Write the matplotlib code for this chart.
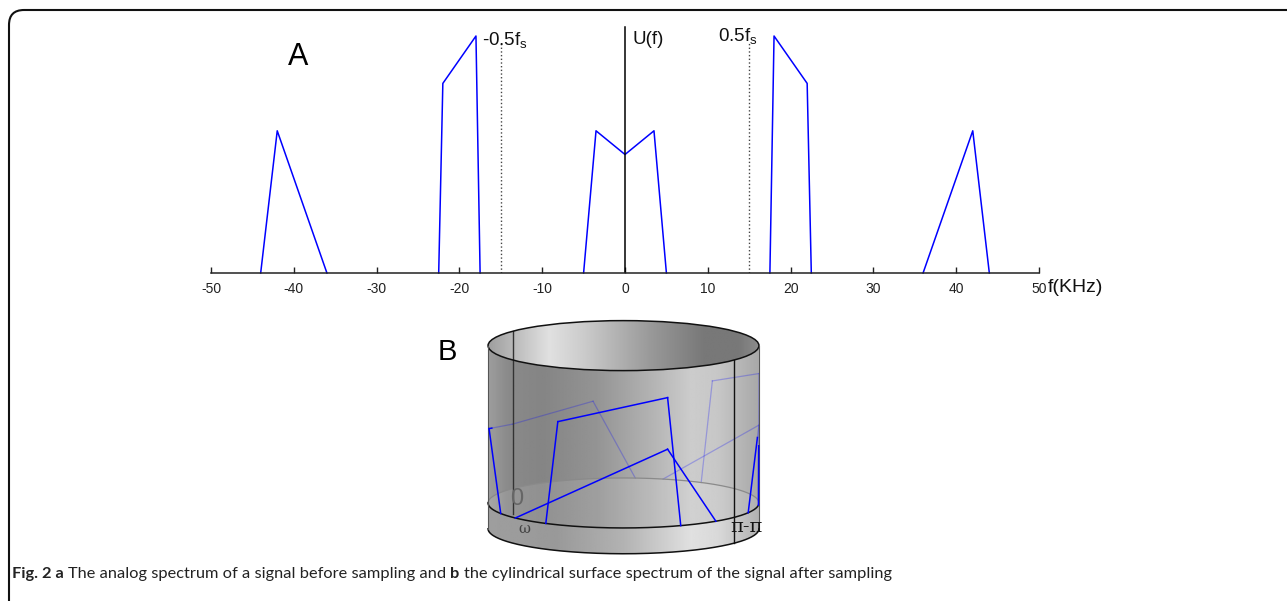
import numpy as np
import matplotlib.pyplot as plt
from matplotlib.patches import Polygon, Ellipse, FancyBboxPatch
from matplotlib.transforms import IdentityTransform

plt.rcParams['axes.unicode_minus'] = False

# sampling rate (kHz) and the spectrum pieces: baseband + images
fs = 30.0
base_f = [-5, -3.5, 0, 3.5, 5]
base_u = [0, 0.6, 0.5, 0.6, 0]
img20_f = [17.5, 18, 22, 22.5]
img20_u = [0, 1.0, 0.8, 0]
img20n_f = [-22.5, -22, -18, -17.5]
img20n_u = [0, 0.8, 1.0, 0]
img42_f = [36, 42, 44]
img42_u = [0, 0.6, 0]
img42n_f = [-44, -42, -36]
img42n_u = [0, 0.6, 0]
pieces = [(base_f, base_u), (img20_f, img20_u), (img20n_f, img20n_u),
          (img42_f, img42_u), (img42n_f, img42n_u)]
xticks = list(range(-50, 51, 10))

W, H = 1287, 601
fig = plt.figure(figsize=(W / 100, H / 100), dpi=100)


def px_box(x0, y0, x1, y1):
    return [x0 / W, 1 - y1 / H, (x1 - x0) / W, (y1 - y0) / H]


blue = '#0000ff'

# ---- A: analog spectrum ----
ax = fig.add_axes(px_box(211, 12.3, 1039, 273))
ax.patch.set_alpha(0)
ax.set_xlim(-50, 50)
ax.set_ylim(0, 1.1)
for s in ['top', 'left', 'right']:
    ax.spines[s].set_visible(False)
ax.spines['bottom'].set_color('#222222')
ax.spines['bottom'].set_linewidth(1.1)
ax.set_yticks([])
ax.set_xticks(xticks)
ax.tick_params(axis='x', direction='in', length=4.5, width=1, pad=6.5,
               labelsize=10, colors='#222222')
for lab in ax.get_xticklabels():
    lab.set_family('Liberation Sans')

for f, u in pieces:
    ax.plot(f, u, color=blue, lw=1.1, clip_on=False)

ax.axvline(0, 0, 1.04 / 1.1, color='black', lw=1.1)
ax.vlines([-fs / 2, fs / 2], 0, 0.97, colors='#444444', linestyles=':', lw=1)

tfont = dict(family='Liberation Sans', fontsize=13.5, color='#111111')
ax.text(-17.3, 0.958, r'-0.5f$_\mathregular{s}$', ha='left', va='baseline', **tfont)
ax.text(11.2, 0.975, r'0.5f$_\mathregular{s}$', ha='left', va='baseline', **tfont)
ax.text(0.85, 0.965, 'U(f)', ha='left', va='baseline', **tfont)
ax.text(51.1, -0.08, 'f(KHz)', ha='left', va='baseline', clip_on=False,
        family='Liberation Sans', fontsize=14, color='#111111')
ax.text(-39.5, 0.878, 'A', ha='center', va='baseline', family='Liberation Sans',
        fontsize=22)

# ---- B: spectrum wrapped on a cylinder ----
bx = fig.add_axes(px_box(474.5, 309.5, 772.5, 561))
bx.axis('off')
e = 25 / 129.0          # ellipse flattening in height units
Ht, Hb = 1.22, -0.2      # top and bottom of the drum
phi0 = np.deg2rad(215)   # screen angle of omega = 0


def ang(f):
    return phi0 + 2 * np.pi * np.asarray(f, float) / fs


def proj(phi, h):
    return np.cos(phi), h - e * np.sin(phi)


arc = np.linspace(np.pi, 0, 200)
bot_x, bot_y = proj(arc, Hb)
top_x, top_y = proj(arc[::-1], Ht)
body = Polygon(np.column_stack([np.r_[bot_x, top_x], np.r_[bot_y, top_y]]),
               closed=True, transform=bx.transData)
base_x, base_y = proj(arc, 0.0)
band = Polygon(np.column_stack([np.r_[base_x, bot_x[::-1]], np.r_[base_y, bot_y[::-1]]]),
               closed=True, transform=bx.transData)
mouth = Ellipse((0, Ht), 2, 2 * e, transform=bx.transData)

uu = np.linspace(-1, 1, 500)


def shade(stops_u, stops_v, clip, z):
    vals = np.interp(uu, stops_u, stops_v)
    im = bx.imshow(vals[None, :], cmap='gray', vmin=0, vmax=1,
                   extent=(-1, 1, -0.6, 1.6), aspect='auto',
                   interpolation='bilinear', zorder=z)
    im.set_clip_path(clip)


shade([-1, -0.85, -0.6, -0.2, 0.2, 0.5, 0.7, 0.9, 1],
      [0.62, 0.54, 0.52, 0.58, 0.7, 0.8, 0.78, 0.7, 0.66], body, 1)
shade([-1, -0.55, -0.3, 0.2, 0.6, 0.85, 1],
      [0.62, 0.88, 0.8, 0.6, 0.47, 0.47, 0.55], mouth, 2)
shade([-1, -0.5, 0, 0.5, 0.7, 1],
      [0.62, 0.6, 0.7, 0.88, 0.85, 0.7], band, 2)
bx.add_patch(Ellipse((0, 0), 2, 2 * e, facecolor='white', alpha=0.1,
                     edgecolor='none', zorder=2.5))

# spectrum on the drum: chords in front solid, behind faded
thr = 0.04
for f, u in pieces:
    ph = ang(f)
    u = np.asarray(u, float)
    for i in range(len(f) - 1):
        x1, y1 = proj(ph[i], u[i])
        x2, y2 = proj(ph[i + 1], u[i + 1])
        d1, d2 = np.sin(ph[i]), np.sin(ph[i + 1])
        if (d1 - thr) * (d2 - thr) < 0:
            t = (thr - d1) / (d2 - d1)
            xm, ym = x1 + t * (x2 - x1), y1 + t * (y2 - y1)
            segs = [((x1, xm), (y1, ym), d1 > thr), ((xm, x2), (ym, y2), d2 > thr)]
        else:
            segs = [((x1, x2), (y1, y2), d1 > thr)]
        for xs, ys, front in segs:
            if front:
                bx.plot(xs, ys, color=blue, lw=1.1, zorder=6)
            else:
                bx.plot(xs, ys, color=blue, lw=0.9, alpha=0.25, zorder=3)

back = np.linspace(0, -np.pi, 200)
bx.plot(*proj(back, 0.0), color='#8a8a8a', lw=0.9, zorder=3)
bx.plot(base_x, base_y, color='#111111', lw=1.1, zorder=5)
bx.plot(bot_x, bot_y, color='#111111', lw=1.1, zorder=5)
bx.add_patch(Ellipse((0, Ht), 2, 2 * e, facecolor='none', edgecolor='#111111',
                     lw=1.1, zorder=5))
for sx in (-1, 1):
    bx.plot([sx, sx], [Hb, Ht], color='#555555', lw=0.8, zorder=5)

# omega = 0 and omega = pi generators
for w, c, z in ((0.0, '#333333', 4), (fs / 2, '#111111', 7)):
    p = ang(w)
    gx, gy0 = proj(p, Hb)
    _, gy1 = proj(p, Ht)
    bx.plot([gx, gx], [gy0, gy1], color=c, lw=1.0, zorder=z)

bx.text(-0.786, 0.03, '0', fontsize=17, color='#666666', ha='center',
        va='center', family='Liberation Sans', zorder=8)
bx.text(-0.73, -0.2, 'ω', fontsize=10.5, color='#444444', ha='center',
        va='center', family='DejaVu Serif', zorder=8)
bx.text(0.786, -0.19, 'π-π', fontsize=14, color='#111111', ha='left',
        va='center', family='DejaVu Serif', zorder=8)
bx.set_xlim(-1.1, 1.1)
bx.set_ylim(-0.45, 1.5)
fig.text(438 / W, 1 - 360 / H, 'B', fontsize=21, va='baseline',
         family='Liberation Sans')

# ---- frame and caption ----
fig.patches.append(FancyBboxPatch((9, -30), 1300, H - 10 + 30,
                                  boxstyle='round,pad=0,rounding_size=15',
                                  transform=IdentityTransform(),
                                  facecolor='none', edgecolor='#111111', lw=1.5))

renderer = fig.canvas.get_renderer()
cap = [('Fig. 2 a', 'bold'), ('The analog spectrum of a signal before sampling and', 'normal'),
       ('b', 'bold'), ('the cylindrical surface spectrum of the signal after sampling', 'normal')]
x = 12
for txt, wgt in cap:
    t = fig.text(x / W, 1 - 578 / H, txt, fontsize=11.8, family='Lato',
                 weight=wgt, va='baseline', color='#222222')
    x = t.get_window_extent(renderer).x1 + 4.3

fig.savefig('out.png', dpi=100)
